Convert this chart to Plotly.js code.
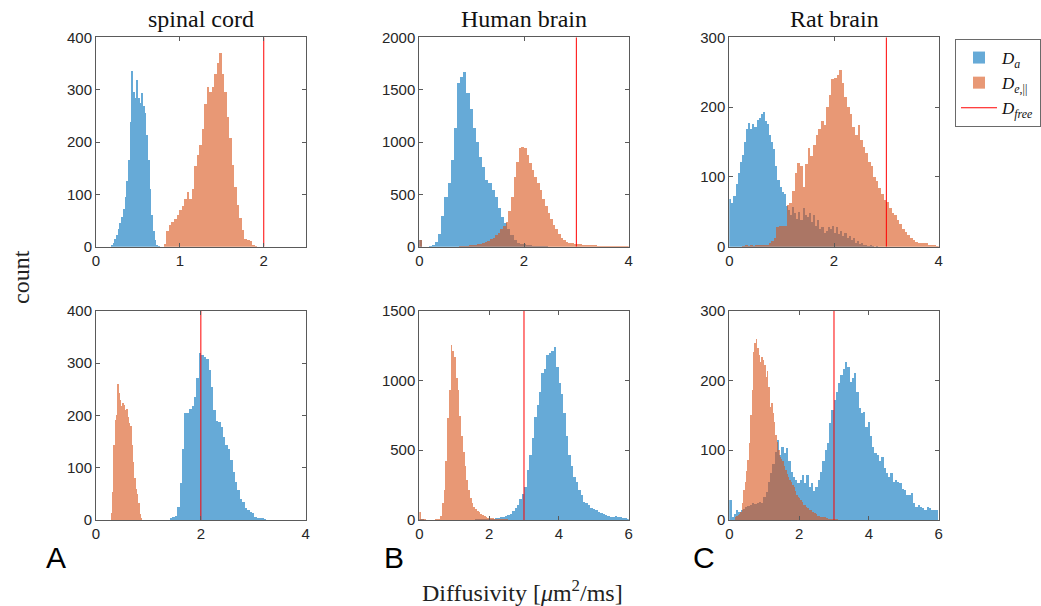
<!DOCTYPE html>
<html>
<head>
<meta charset="utf-8">
<script src="https://cdn.plot.ly/plotly-3.0.1.min.js"></script>
<style>html,body{margin:0;padding:0;background:#fff;}#chart{width:1041px;height:606px;}</style>
</head>
<body>
<div id="chart"></div>
<script>
// ---------- data (histogram counts) ----------
const panelTitles = ["spinal cord", "Human brain", "Rat brain"];
const panelLetters = ["A", "B", "C"];
const dFree = [2, 3, 3, 2, 3, 3];
const yMax = [400, 2000, 300, 400, 1500, 300];
const xMax = [2.5, 4, 4, 4, 6, 6];
const yTickStep = [100, 500, 100, 100, 500, 100];
const xTickStep = [1, 2, 2, 2, 2, 2];

// Panel 1: spinal cord (top)
const p1BlueStart = 0.18, p1BlueWidth = 0.02;
const p1Blue = [3,8,14,22,33,45,57,72,95,125,165,238,336,296,285,318,285,275,293,268,255,213,166,110,60,30,12,4,2];
const p1OrangeStart = 0.81, p1OrangeWidth = 0.03;
const p1Orange = [6,30,42,47,52,60,70,78,92,105,92,110,155,175,195,225,272,305,296,305,330,350,370,330,296,248,207,156,115,80,54,32,14,12,10,3,2];

// Panel 2: Human brain (top)
const p2BlueStart = 0, p2BlueWidth = 0.06;
const p2Blue = [64,0,0,3,20,45,125,290,470,610,830,1130,1560,1620,1670,1465,1320,1130,1000,860,764,637,605,540,470,366,287,230,170,110,65,40,30,22,18,14,10,8,5,3,2,1];
const p2OrangeStart = 0, p2OrangeWidth = 0.05;
const p2Orange = [64,0,0,0,0,0,0,0,0,0,0,0,0,0,0,3,5,8,10,12,16,18,22,28,35,45,55,70,85,110,135,170,200,240,340,470,670,810,940,955,940,880,800,735,670,605,540,460,385,320,260,210,165,120,85,60,45,38,32,28,25,22,20,18,16,14,13,12,11,10,10,9,8,8,7,7,6,6,5,5];

// Panel 3: Rat brain (top)
const p3BlueStart = 0, p3BlueWidth = 0.04;
const p3Blue = [69,62,72,90,105,122,132,150,168,177,168,176,172,182,185,190,193,180,176,160,150,140,115,95,85,79,75,58,52,45,57,48,40,50,38,55,45,42,48,35,45,30,38,25,28,20,22,28,25,30,20,28,18,22,15,20,12,15,10,12,6,8,4,6,3,2,1,2,1,0,1,0,0,0,0];
const p3OrangeStart = 0, p3OrangeWidth = 0.05;
const p3Orange = [0,0,0,0,0,1,2,1,2,1,3,2,3,2,3,5,8,12,28,30,29,30,60,62,80,105,120,115,86,118,141,130,145,160,168,180,175,200,217,240,242,246,253,235,215,200,190,172,160,174,153,143,134,122,115,100,94,84,76,67,64,55,48,45,38,33,26,21,17,12,10,7,6,6,5,5,3,2,2,1];

// Panel 4: spinal cord (bottom)
const p4BlueStart = 1.41, p4BlueWidth = 0.046;
const p4Blue = [3,5,8,25,70,135,204,205,213,217,236,272,320,315,312,307,287,255,210,189,188,178,159,143,135,115,92,73,57,41,35,22,19,16,13,6,4,4,3,2];
const p4OrangeStart = 0.28, p4OrangeWidth = 0.025;
const p4Orange = [13,54,143,191,200,260,242,229,217,223,220,210,213,197,185,180,143,110,80,60,50,32,11,3];

// Panel 5: Human brain (bottom)
const p5BlueStart = 0, p5BlueWidth = 0.07;
const p5Blue = [5,4,3,3,2,2,1,1,1,1,1,1,1,1,1,1,2,2,2,2,3,3,3,4,4,5,5,6,7,8,10,12,14,18,22,28,36,45,62,85,110,150,185,240,355,465,585,740,825,920,1050,1080,1185,1200,1210,1240,1100,980,905,765,600,465,385,310,275,215,180,130,120,108,84,76,72,60,48,41,36,31,24,24,29,24,19,14,14,10];
const p5OrangeStart = 0, p5OrangeWidth = 0.05;
const p5Orange = [60,5,4,4,3,3,3,2,3,4,5,10,30,120,215,420,730,935,1257,1210,1170,1015,930,745,600,490,385,290,215,160,120,95,80,68,55,45,36,28,22,16,13,12,11,10,10,9,8,7,6,5,4,3,3,2,2,2,1,1,1,1];

// Panel 6: Rat brain (bottom)
const p6BlueStart = 0, p6BlueWidth = 0.065;
const p6Blue = [29,4,9,14,12,14,16,18,20,22,24,23,25,26,25,33,40,55,67,80,98,115,93,105,96,103,84,69,62,57,53,57,64,53,64,48,53,41,48,57,69,84,100,110,139,158,172,184,196,208,217,227,220,198,203,210,184,160,153,155,134,141,120,105,96,93,84,91,74,67,62,67,55,57,55,53,45,43,36,36,38,24,19,21,19,17,15,19,17,14,14,14];
const p6OrangeStart = 0.16, p6OrangeWidth = 0.04;
const p6Orange = [5,6,7,9,12,25,43,55,70,86,110,150,186,241,253,259,246,236,227,234,229,222,205,213,191,162,167,153,141,122,112,100,91,88,84,78,72,66,62,57,55,50,48,42,36,33,31,28,26,22,21,19,17,14,14,12,11,10,8,6,6,5,5,4,4,3,3,2,2,2,1,1,1,1];

const legendNames = ["<i>D</i><sub><i>a</i></sub>", "<i>D</i><sub><i>e</i>,||</sub>", "<i>D</i><sub><i>free</i></sub>"];

// ---------- build ----------
const panels = [
  [p1BlueStart, p1BlueWidth, p1Blue, p1OrangeStart, p1OrangeWidth, p1Orange],
  [p2BlueStart, p2BlueWidth, p2Blue, p2OrangeStart, p2OrangeWidth, p2Orange],
  [p3BlueStart, p3BlueWidth, p3Blue, p3OrangeStart, p3OrangeWidth, p3Orange],
  [p4BlueStart, p4BlueWidth, p4Blue, p4OrangeStart, p4OrangeWidth, p4Orange],
  [p5BlueStart, p5BlueWidth, p5Blue, p5OrangeStart, p5OrangeWidth, p5Orange],
  [p6BlueStart, p6BlueWidth, p6Blue, p6OrangeStart, p6OrangeWidth, p6Orange]
];

const W = 1041, H = 606;
const colPx = [[96, 305.7], [419.3, 628.7], [729.3, 938.7]];
const rowPx = [[37.3, 246.7], [310.7, 520]];

const BLUE = "rgba(0,114,189,0.6)";
const ORANGE = "rgba(217,83,25,0.6)";
const RED = "#ff0000";
const AXC = "#5a5a5a";
const TICKFONT = {family: "Liberation Sans, Arial, sans-serif", size: 15, color: "#262626"};

function centers(start, width, counts) {
  return counts.map((_, i) => start + width * (i + 0.5));
}

const traces = [];
const layout = {
  width: W, height: H,
  margin: {l: 0, r: 0, t: 0, b: 0},
  paper_bgcolor: "#fff", plot_bgcolor: "#fff",
  barmode: "overlay",
  bargap: 0,
  showlegend: true,
  legend: {
    x: 955 / W, y: 1 - 39 / H, xanchor: "left", yanchor: "top",
    bgcolor: "#fff", bordercolor: "#6a6a6a", borderwidth: 1,
    font: {family: "Liberation Serif, serif", size: 17, color: "#111"},
    tracegroupgap: 0, itemwidth: 36
  },
  annotations: [],
  hovermode: false
};

panels.forEach((p, k) => {
  const s = k === 0 ? "" : String(k + 1);
  const xa = "x" + s, ya = "y" + s;
  const first = k === 0;
  traces.push({
    type: "bar", x: centers(p[0], p[1], p[2]), y: p[2], width: p[1],
    marker: {color: BLUE, line: {width: 0}},
    xaxis: xa, yaxis: ya, name: legendNames[0], showlegend: first, legendrank: 1
  });
  traces.push({
    type: "bar", x: centers(p[3], p[4], p[5]), y: p[5], width: p[4],
    marker: {color: ORANGE, line: {width: 0}},
    xaxis: xa, yaxis: ya, name: legendNames[1], showlegend: first, legendrank: 2
  });
  traces.push({
    type: "scatter", mode: "lines", x: [dFree[k], dFree[k]], y: [0, yMax[k]],
    line: {color: RED, width: 1},
    xaxis: xa, yaxis: ya, name: legendNames[2], showlegend: first, legendrank: 3
  });

  const col = k % 3, row = Math.floor(k / 3);
  const common = {
    showline: true, mirror: "ticks", linecolor: AXC, linewidth: 1,
    ticks: "inside", ticklen: 4, tickcolor: AXC, tickwidth: 1,
    showgrid: false, zeroline: false, tickfont: TICKFONT, fixedrange: true
  };
  layout["xaxis" + s] = Object.assign({}, common, {
    domain: [colPx[col][0] / W, colPx[col][1] / W],
    range: [0, xMax[k]], dtick: xTickStep[k], tick0: 0,
    anchor: ya
  });
  layout["yaxis" + s] = Object.assign({}, common, {
    domain: [1 - rowPx[row][1] / H, 1 - rowPx[row][0] / H],
    range: [0, yMax[k]], dtick: yTickStep[k], tick0: 0,
    anchor: xa
  });
});

// column titles
panelTitles.forEach((t, c) => {
  layout.annotations.push({
    text: t, xref: "paper", yref: "paper",
    x: (colPx[c][0] + colPx[c][1]) / 2 / W, y: 1 - 19 / H,
    xanchor: "center", yanchor: "middle", showarrow: false,
    font: {family: "Liberation Serif, serif", size: 24, color: "#111"}
  });
});
// panel letters
const letterX = [56, 394, 704];
panelLetters.forEach((t, c) => {
  layout.annotations.push({
    text: t, xref: "paper", yref: "paper",
    x: letterX[c] / W, y: 1 - 557 / H,
    xanchor: "center", yanchor: "middle", showarrow: false,
    font: {family: "Liberation Sans, Arial, sans-serif", size: 30, color: "#000"}
  });
});
// axis labels
layout.annotations.push({
  text: "count", xref: "paper", yref: "paper", x: 21 / W, y: 1 - 277 / H,
  xanchor: "center", yanchor: "middle", textangle: -90, showarrow: false,
  font: {family: "Liberation Serif, serif", size: 24, color: "#222"}
});
layout.annotations.push({
  text: "Diffusivity [<i>μ</i>m<sup>2</sup>/ms]", xref: "paper", yref: "paper",
  x: 522 / W, y: 1 - 591 / H, xanchor: "center", yanchor: "middle", showarrow: false,
  font: {family: "Liberation Serif, serif", size: 24, color: "#222"}
});

Plotly.newPlot("chart", traces, layout, {displayModeBar: false, staticPlot: true});
</script>
</body>
</html>
